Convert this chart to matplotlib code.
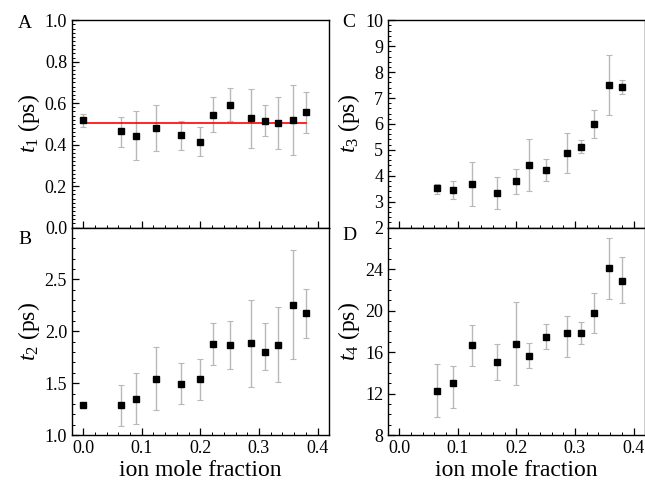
import numpy as np
import matplotlib
matplotlib.use("Agg")
import matplotlib.pyplot as plt
from matplotlib.ticker import MultipleLocator, FormatStrFormatter

plt.rcParams['font.family'] = ['Liberation Serif', 'DejaVu Serif']
plt.rcParams['mathtext.fontset'] = 'custom'
plt.rcParams['mathtext.rm'] = 'Liberation Serif'
plt.rcParams['mathtext.it'] = 'Liberation Serif:italic'

# ion mole fraction
x_all = [0.0, 0.0645, 0.091, 0.125, 0.167, 0.2, 0.222, 0.25, 0.286, 0.31, 0.333, 0.358, 0.38]

# panel A: t1
t1 = [0.518, 0.465, 0.441, 0.480, 0.446, 0.412, 0.543, 0.591, 0.528, 0.514, 0.504, 0.518, 0.557]
t1_lo = [0.483, 0.391, 0.325, 0.370, 0.374, 0.343, 0.460, 0.512, 0.386, 0.441, 0.378, 0.348, 0.456]
t1_hi = [0.548, 0.533, 0.562, 0.591, 0.514, 0.485, 0.630, 0.673, 0.668, 0.591, 0.630, 0.688, 0.654]
t1_fit = 0.504

# panel B: t2
t2 = [1.286, 1.286, 1.350, 1.543, 1.496, 1.537, 1.877, 1.867, 1.887, 1.801, 1.867, 2.258, 2.176]
t2_lo = [1.286, 1.086, 1.108, 1.245, 1.296, 1.334, 1.674, 1.639, 1.467, 1.629, 1.512, 1.737, 1.934]
t2_hi = [1.286, 1.486, 1.594, 1.848, 1.693, 1.734, 2.077, 2.099, 2.306, 2.077, 2.230, 2.789, 2.411]

# panels C, D start at the second composition
x_cd = x_all[1:]
t3 = [3.52, 3.44, 3.68, 3.33, 3.79, 4.41, 4.22, 4.86, 5.11, 5.99, 7.50, 7.43]
t3_lo = [3.31, 3.11, 2.82, 2.73, 3.30, 3.40, 3.79, 4.10, 4.87, 5.47, 6.33, 7.15]
t3_hi = [3.70, 3.79, 4.53, 3.95, 4.26, 5.41, 4.64, 5.65, 5.38, 6.54, 8.65, 7.70]

t4 = [12.27, 13.04, 16.70, 15.08, 16.80, 15.65, 17.43, 17.88, 17.88, 19.76, 24.06, 22.82]
t4_lo = [9.69, 10.61, 14.69, 13.29, 12.81, 14.44, 16.25, 15.49, 16.80, 17.85, 21.16, 20.75]
t4_hi = [14.88, 14.69, 18.58, 16.76, 20.78, 16.86, 18.71, 19.44, 18.93, 21.74, 27.03, 25.15]

fig = plt.figure(figsize=(6.45, 4.84), dpi=100)
w, h = 0.398, 0.4285
axA = fig.add_axes([0.1116, 0.5297, w, h])
axB = fig.add_axes([0.1116, 0.1012, w, h])
axC = fig.add_axes([0.6016, 0.5297, w, h])
axD = fig.add_axes([0.6016, 0.1012, w, h])

panels = [
    (axA, x_all, t1, t1_lo, t1_hi, (0.0, 1.0), 0.2, 0.02, '%.1f', r'$t_1$ (ps)', 'A', (-0.183, 0.984)),
    (axB, x_all, t2, t2_lo, t2_hi, (1.0, 3.0), 0.5, 0.1, '%.1f', r'$t_2$ (ps)', 'B', (-0.183, 0.942)),
    (axC, x_cd, t3, t3_lo, t3_hi, (2.0, 10.0), 1, 0.2, '%d', r'$t_3$ (ps)', 'C', (-0.152, 0.99)),
    (axD, x_cd, t4, t4_lo, t4_hi, (8.0, 28.0), 4, 1, '%d', r'$t_4$ (ps)', 'D', (-0.152, 0.962)),
]

for ax, xs, ys, lo, hi, ylim, major, minor, fmt, ylabel, letter, lpos in panels:
    ys = np.array(ys)
    yerr = [ys - np.array(lo), np.array(hi) - ys]
    ax.errorbar(xs, ys, yerr=yerr, fmt='none', ecolor='#b8b8b8', elinewidth=1.0,
                capsize=2, capthick=0.8, zorder=2)
    ax.plot(xs, ys, 's', color='black', markersize=5, zorder=3)
    ax.set_xlim(-0.019, 0.419)
    ax.set_ylim(*ylim)
    ax.xaxis.set_major_locator(MultipleLocator(0.1))
    ax.xaxis.set_minor_locator(MultipleLocator(0.02))
    ax.yaxis.set_major_locator(MultipleLocator(major))
    ax.yaxis.set_minor_locator(MultipleLocator(minor))
    ax.yaxis.set_major_formatter(FormatStrFormatter(fmt))
    ax.tick_params(which='both', direction='in', top=False, right=False, labelsize=13)
    ax.tick_params(which='major', length=5, width=0.9)
    ax.tick_params(which='minor', length=2.5, width=0.7)
    for s in ax.spines.values():
        s.set_linewidth(1.0)
    ax.set_ylabel(ylabel, fontsize=17, labelpad=2)
    ax.text(lpos[0], lpos[1], letter, transform=ax.transAxes, fontsize=14,
            ha='center', va='center')

axA.plot([x_all[0], x_all[-1]], [t1_fit, t1_fit], color='red', linewidth=1.2, zorder=2.5)

for ax in (axA, axC):
    ax.tick_params(labelbottom=False)
for ax in (axB, axD):
    ax.set_xlabel('ion mole fraction', fontsize=17, labelpad=2)

# top tick labels of the lower panels are covered by the upper axes
axB.set_yticks([1.0, 1.5, 2.0, 2.5])
axD.set_yticks([8, 12, 16, 20, 24])

fig.savefig('out.png', dpi=100)
